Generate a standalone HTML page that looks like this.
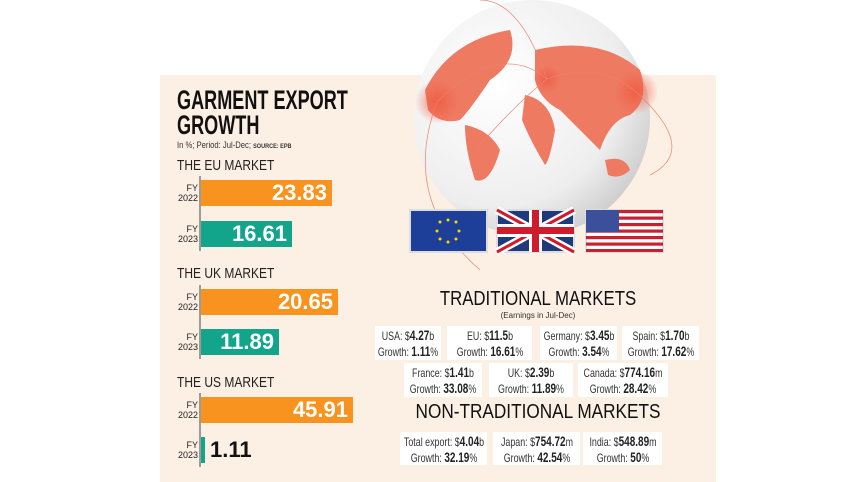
<!DOCTYPE html>
<html><head><meta charset="utf-8"><style>
body{margin:0;width:857px;height:482px;background:#fff;position:relative;overflow:hidden;font-family:"Liberation Sans",sans-serif}
.a{position:absolute}
.n{transform-origin:left top;white-space:nowrap}
.bar{position:absolute;left:201px;height:26px;color:#fff;font-weight:bold;font-size:22px;text-align:right;line-height:26px;box-sizing:border-box;padding-right:5px}
.o{background:#f7931e}.g{background:#12a58c}
.fy{position:absolute;left:176px;font-size:9px;line-height:10px;text-align:right;width:22px;color:#222}
.mk{position:absolute;left:177px;font-size:15px;color:#222}
.box{position:absolute;background:#fff;font-size:12px;line-height:15px;color:#333;padding-top:2px;box-sizing:border-box;white-space:nowrap;overflow:visible}
.box div{width:200%;margin-left:-50%;text-align:center;transform:scaleX(0.74)}
.box b{font-size:13.5px;color:#222}
.h{position:absolute;left:270px;width:536px;text-align:center;font-size:20px;color:#111;white-space:nowrap}
</style></head><body>
<div class="a" style="left:160px;top:75px;width:556px;height:407px;background:#fcefe4"></div>
<svg class="a" style="left:0;top:0" width="857" height="482">
<defs><radialGradient id="gl" cx="0.35" cy="0.35" r="0.75"><stop offset="0" stop-color="#fff"/><stop offset="0.7" stop-color="#eee"/><stop offset="1" stop-color="#c8c8c8"/></radialGradient>
<radialGradient id="glow"><stop offset="0" stop-color="#ee5a40" stop-opacity="0.8"/><stop offset="1" stop-color="#ee5a40" stop-opacity="0"/></radialGradient></defs>
<circle cx="532" cy="118" r="118" fill="url(#gl)"/>
<path d="M425 90 Q450 40 510 30 Q520 60 490 80 Q470 110 460 120 Q440 125 428 110Z" fill="#ef7a62"/>
<path d="M465 125 Q490 130 500 150 Q490 185 475 180 Q465 150 465 125Z" fill="#ef7a62"/>
<path d="M535 50 Q600 35 640 70 Q650 100 630 115 Q610 120 600 150 Q580 130 560 110 Q540 100 535 80Z" fill="#ef7a62"/>
<path d="M525 95 Q550 100 555 130 Q550 160 545 165 Q530 140 522 120Z" fill="#ef7a62"/>
<path d="M605 160 Q625 155 630 170 Q620 180 608 175Z" fill="#ef7a62"/>
<circle cx="437" cy="102" r="22" fill="url(#glow)"/><circle cx="636" cy="92" r="22" fill="url(#glow)"/><circle cx="547" cy="79" r="14" fill="url(#glow)"/>
<g stroke="#e9836e" stroke-width="0.7" fill="none"><path d="M437 102 Q500 40 547 79"/><path d="M547 79 Q600 60 636 92"/><path d="M477 148 Q520 100 547 79"/><path d="M437 102 Q400 200 480 270"/><path d="M636 92 Q700 150 650 175"/><path d="M547 79 Q520 0 480 0"/></g>
<rect x="410" y="210" width="77" height="42" fill="#1d3f9a" stroke="#ddd" stroke-width="2"/>
<g fill="#ffd700"><circle cx="448" cy="220" r="1.5"/><circle cx="456" cy="222" r="1.5"/><circle cx="459" cy="231" r="1.5"/><circle cx="456" cy="239" r="1.5"/><circle cx="448" cy="242" r="1.5"/><circle cx="440" cy="239" r="1.5"/><circle cx="437" cy="231" r="1.5"/><circle cx="440" cy="222" r="1.5"/></g>
<rect x="497" y="210" width="77" height="42" fill="#1f3a7a" stroke="#ddd" stroke-width="2"/>
<path d="M497 210L574 252M574 210L497 252" stroke="#fff" stroke-width="8"/><path d="M497 210L574 252M574 210L497 252" stroke="#cf1c2c" stroke-width="3"/>
<rect x="529" y="210" width="13" height="42" fill="#fff"/><rect x="497" y="224" width="77" height="13" fill="#fff"/>
<rect x="532" y="210" width="7" height="42" fill="#cf1c2c"/><rect x="497" y="227" width="77" height="7" fill="#cf1c2c"/>
<rect x="586" y="210" width="77" height="42" fill="#fff" stroke="#ddd" stroke-width="2"/>
<g fill="#c8202f"><rect x="586" y="210" width="77" height="3.2"/><rect x="586" y="216.5" width="77" height="3.2"/><rect x="586" y="223" width="77" height="3.2"/><rect x="586" y="229.5" width="77" height="3.2"/><rect x="586" y="236" width="77" height="3.2"/><rect x="586" y="242.5" width="77" height="3.2"/><rect x="586" y="249" width="77" height="3"/></g>
<rect x="586" y="210" width="33" height="22" fill="#3c4f9a"/>
<line x1="200" y1="176" x2="200" y2="251" stroke="#444"/><line x1="200" y1="285" x2="200" y2="359" stroke="#444"/><line x1="200" y1="393" x2="200" y2="467" stroke="#444"/>
</svg>
<div class="a n" style="left:177px;top:88px;font-size:27px;font-weight:bold;line-height:25px;transform:scaleX(0.67);color:#111">GARMENT EXPORT<br>GROWTH</div>
<div class="a n" style="left:177px;top:140px;font-size:9px;color:#333;transform:scaleX(0.85)">In %; Period: Jul-Dec; <b style="font-size:6.5px">SOURCE: EPB</b></div>
<div class="mk n" style="top:157px;transform:scaleX(0.8)">THE EU MARKET</div>
<div class="mk n" style="top:265px;transform:scaleX(0.8)">THE UK MARKET</div>
<div class="mk n" style="top:374px;transform:scaleX(0.8)">THE US MARKET</div>
<div class="fy" style="top:183px">FY<br>2022</div><div class="fy" style="top:224px">FY<br>2023</div>
<div class="fy" style="top:292px">FY<br>2022</div><div class="fy" style="top:332px">FY<br>2023</div>
<div class="fy" style="top:400px">FY<br>2022</div><div class="fy" style="top:440px">FY<br>2023</div>
<div class="bar o" style="top:180px;width:131px">23.83</div>
<div class="bar g" style="top:221px;width:91px">16.61</div>
<div class="bar o" style="top:289px;width:137px">20.65</div>
<div class="bar g" style="top:329px;width:78px">11.89</div>
<div class="bar o" style="top:397px;width:152px">45.91</div>
<div class="bar g" style="top:437px;width:4px;padding:0"></div>
<div class="a" style="left:210px;top:437px;font-size:22px;font-weight:bold;line-height:26px;color:#111">1.11</div>
<div class="h" style="top:288px;transform:scaleX(0.84)">TRADITIONAL MARKETS</div>
<div class="h" style="top:311px;font-size:8px;color:#333">(Earnings in Jul-Dec)</div>
<div class="h" style="top:401px;transform:scaleX(0.86)">NON-TRADITIONAL MARKETS</div>
<div class="box" style="left:375px;top:326px;width:66px;height:34px"><div>USA: $<b>4.27</b>b<br>Growth: <b>1.11</b>%</div></div>
<div class="box" style="left:447px;top:326px;width:85px;height:34px"><div>EU: $<b>11.5</b>b<br>Growth: <b>16.61</b>%</div></div>
<div class="box" style="left:540px;top:326px;width:77px;height:34px"><div>Germany: $<b>3.45</b>b<br>Growth: <b>3.54</b>%</div></div>
<div class="box" style="left:622px;top:326px;width:77px;height:34px"><div>Spain: $<b>1.70</b>b<br>Growth: <b>17.62</b>%</div></div>
<div class="box" style="left:404px;top:363px;width:78px;height:34px"><div>France: $<b>1.41</b>b<br>Growth: <b>33.08</b>%</div></div>
<div class="box" style="left:489px;top:363px;width:84px;height:34px"><div>UK: $<b>2.39</b>b<br>Growth: <b>11.89</b>%</div></div>
<div class="box" style="left:578px;top:363px;width:90px;height:34px"><div>Canada: $<b>774.16</b>m<br>Growth: <b>28.42</b>%</div></div>
<div class="box" style="left:400px;top:432px;width:87px;height:33px"><div>Total export: $<b>4.04</b>b<br>Growth: <b>32.19</b>%</div></div>
<div class="box" style="left:493px;top:432px;width:87px;height:33px"><div>Japan: $<b>754.72</b>m<br>Growth: <b>42.54</b>%</div></div>
<div class="box" style="left:583px;top:432px;width:79px;height:33px"><div>India: $<b>548.89</b>m<br>Growth: <b>50</b>%</div></div>
</body></html>
